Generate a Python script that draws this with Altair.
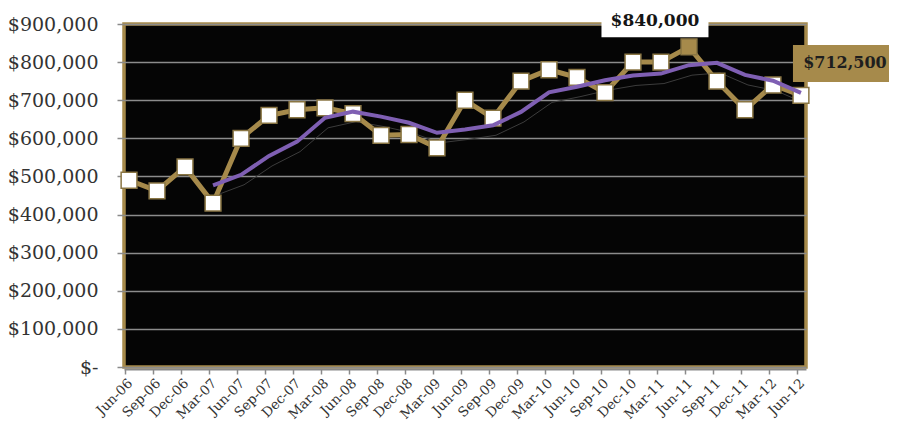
import altair as alt
import pandas as pd

months = ["Jun-06", "Sep-06", "Dec-06", "Mar-07", "Jun-07", "Sep-07", "Dec-07",
          "Mar-08", "Jun-08", "Sep-08", "Dec-08", "Mar-09", "Jun-09", "Sep-09",
          "Dec-09", "Mar-10", "Jun-10", "Sep-10", "Dec-10", "Mar-11", "Jun-11",
          "Sep-11", "Dec-11", "Mar-12", "Jun-12"]
median_price = [490000, 462000, 525000, 430000, 600000, 660000, 675000,
                680000, 665000, 608000, 610000, 575000, 700000, 653000,
                750000, 780000, 760000, 720000, 800000, 800000, 840000,
                750000, 675000, 740000, 712500]
moving_avg = [None, None, None, 476800, 504300, 553800, 591300,
              653800, 670000, 657000, 640800, 614500, 623300, 634300,
              669300, 720500, 735500, 752500, 765000, 770000, 792000,
              798000, 766300, 751300, 719400]
y_ticks = [0, 100000, 200000, 300000, 400000, 500000, 600000, 700000, 800000, 900000]
peak_month = "Jun-11"
peak_label = "$840,000"
last_month = "Jun-12"
last_label = "$712,500"

df = pd.DataFrame({"month": months, "price": median_price, "avg": moving_avg})

GOLD = "#A68A4B"
PURPLE = "#7F5FB3"
FONT = "DejaVu Serif"

x_enc = alt.X(
    "month:N", sort=months, title=None,
    scale=alt.Scale(type="point", padding=0.18),
    axis=alt.Axis(labelAngle=-45, labelFont=FONT, labelFontSize=13.5, labelColor="#333333",
                  tickColor="#8a8a8a", tickSize=5, tickWidth=1.5, domainColor="#8a8a8a",
                  domainWidth=2, offset=2, tickOffset=-4, grid=False, labelPadding=2,
                  labelOverlap=False),
)


def y_enc(field):
    return alt.Y(
        f"{field}:Q", title=None,
        scale=alt.Scale(domain=[0, 900000], nice=False, zero=True),
        axis=alt.Axis(values=y_ticks, labelFont=FONT, labelFontSize=19, labelColor="#333333",
                      tickColor="#8a8a8a", tickSize=7, tickWidth=1.5, labelPadding=19,
                      domain=False, grid=True, gridColor="#8c8c8c", gridWidth=1.5,
                      labelExpr="datum.value == 0 ? '$-\u00a0\u00a0\u2009' : '$' + format(datum.value, ',')"),
    )


base = alt.Chart(df)

shadow = base.transform_filter("datum.avg != null").mark_line(
    color="#3c3c3c", strokeWidth=1, xOffset=3, yOffset=10
).encode(x=x_enc, y=y_enc("avg"))

price_line = base.mark_line(color=GOLD, strokeWidth=5).encode(x=x_enc, y=y_enc("price"))

markers = base.mark_square(size=250, strokeWidth=1.5, stroke="#8a7644", opacity=1).encode(
    x=x_enc, y=y_enc("price"),
    fill=alt.condition(alt.datum.month == peak_month, alt.value(GOLD), alt.value("white")),
)

avg_line = base.transform_filter("datum.avg != null").mark_line(
    color=PURPLE, strokeWidth=4
).encode(x=x_enc, y=y_enc("avg"))

peak = base.transform_filter(alt.datum.month == peak_month)
peak_box = peak.mark_rect(color="white", width=107, height=33, xOffset=-34, yOffset=-26).encode(
    x=x_enc, y=y_enc("price"))
peak_text = peak.mark_text(font=FONT, fontSize=17, fontWeight="bold", color="#151515",
                           dx=-34, dy=-26, baseline="middle", align="center").encode(
    x=x_enc, y=y_enc("price"), text=alt.value(peak_label))

last = base.transform_filter(alt.datum.month == last_month)
last_box = last.mark_rect(color=GOLD, width=104, height=37, xOffset=44, yOffset=-32).encode(
    x=x_enc, y=y_enc("price"))
last_text = last.mark_text(font=FONT, fontSize=16, fontWeight="bold", color="#1e1e1e",
                           dx=44, dy=-32, baseline="middle", align="center").encode(
    x=x_enc, y=y_enc("price"), text=alt.value(last_label))

chart = alt.layer(
    shadow, price_line, markers, avg_line, peak_box, peak_text, last_box, last_text
).properties(
    width=682, height=343,
    autosize=alt.AutoSizeParams(type="none"),
    padding={"left": 116, "top": 16, "right": 83, "bottom": 56},
    background="white",
).configure_view(
    fill="#050505", stroke=GOLD, strokeWidth=3.5
)

chart.save("out.html", embed_options={"renderer": "svg", "actions": False})
